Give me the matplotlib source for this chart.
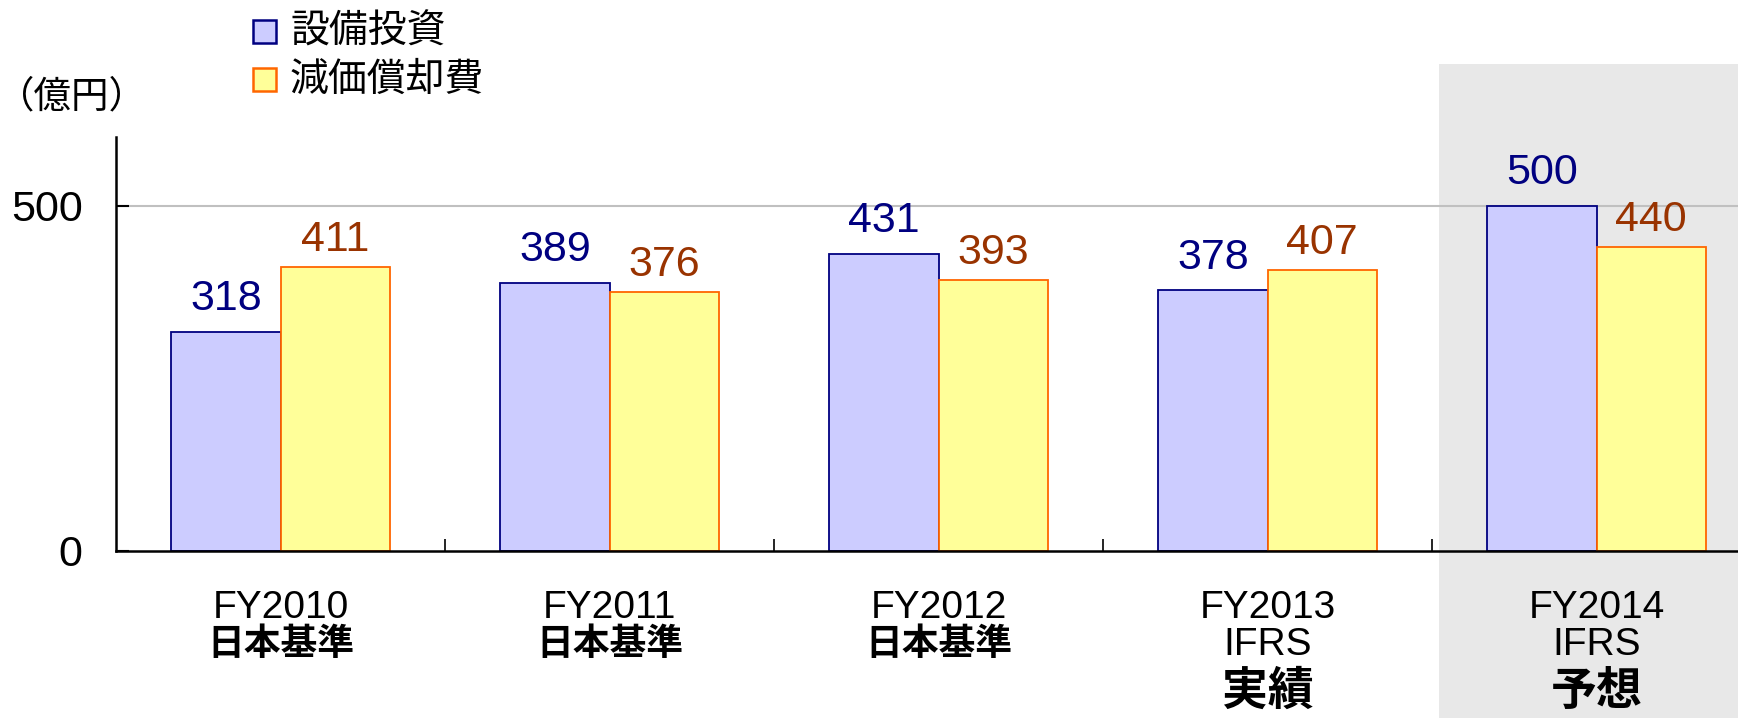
import matplotlib.pyplot as plt
from matplotlib.patches import Rectangle
from matplotlib.transforms import blended_transform_factory
import numpy as np

plt.rcParams['font.family'] = ['Liberation Sans', 'Noto Sans CJK JP', 'DejaVu Sans']

years = ['FY2010', 'FY2011', 'FY2012', 'FY2013', 'FY2014']
standards = ['日本基準', '日本基準', '日本基準', 'IFRS', 'IFRS']
status = ['', '', '', '実績', '予想']
capex = [318, 389, 431, 378, 500]
depreciation = [411, 376, 393, 407, 440]
series_names = ['設備投資', '減価償却費']

blue_face, blue_edge, blue_text = '#CCCCFF', '#000080', '#000080'
yel_face, yel_edge, yel_text = '#FFFF99', '#FF6600', '#993300'

W, H = 1738, 718
fig = plt.figure(figsize=(W / 100, H / 100), dpi=100)

# shaded forecast column (figure level, behind axes)
fig.patches.append(Rectangle((1439 / W, 0), (W - 1439) / W, 1 - 64 / H,
                             transform=fig.transFigure, facecolor='#E8E8E8',
                             edgecolor='none', zorder=-5))

ax = fig.add_axes([116 / W, 1 - 551 / H, 1 - 116 / W, (551 - 137) / H])
ax.set_facecolor('none')

x = np.arange(len(years))
w = 0.332
ax.bar(x - w / 2, capex, w, facecolor=blue_face, edgecolor=blue_edge, linewidth=1.3, zorder=3)
ax.bar(x + w / 2, depreciation, w, facecolor=yel_face, edgecolor=yel_edge, linewidth=1.3, zorder=3)

for xi, v in zip(x, capex):
    ax.annotate(str(v), (xi - w / 2, v), xytext=(0, 15.5), textcoords='offset points',
                ha='center', va='baseline', fontsize=31, color=blue_text)
for xi, v in zip(x, depreciation):
    ax.annotate(str(v), (xi + w / 2, v), xytext=(0, 11.5), textcoords='offset points',
                ha='center', va='baseline', fontsize=31, color=yel_text)

ax.set_xlim(-0.5, (W - 116) / 329 - 0.5)
ax.set_ylim(0, 600)
ax.axhline(500, color='#C0C0C0', linewidth=1.5, zorder=1)

ax.set_yticks([0, 500])
ax.set_yticklabels(['0', '500'], fontsize=31)
ax.tick_params(axis='y', direction='in', length=9, width=1.5, pad=24)
ax.set_xticks(x[:-1] + 0.5)
ax.set_xticklabels([])
ax.tick_params(axis='x', direction='in', length=9, width=1.2)

for s in ['top', 'right']:
    ax.spines[s].set_visible(False)
for s in ['left', 'bottom']:
    ax.spines[s].set_linewidth(1.8)
    ax.spines[s].set_zorder(4)

# category labels
tr = blended_transform_factory(ax.transData, fig.transFigure)
for xi, yr, st, stt in zip(x, years, standards, status):
    ax.text(xi, 1 - 608 / H, yr, transform=tr, ha='center', va='center', fontsize=28)
    bold = st != 'IFRS'
    ax.text(xi, 1 - 645 / H, st, transform=tr, ha='center', va='center',
            fontsize=28 if not bold else 26.5, fontweight='bold' if bold else 'normal')
    if stt:
        ax.text(xi, 1 - 693 / H, stt, transform=tr, ha='center', va='center',
                fontsize=33, fontweight='bold')

# unit label
fig.text(72 / W, 1 - 97 / H, '（億円）', ha='center', va='center', fontsize=27,
         family=['Noto Sans CJK JP'])

# legend
for i, (name, fc, ec) in enumerate(zip(series_names, [blue_face, yel_face], [blue_edge, yel_edge])):
    top = 20 + 48 * i
    fig.patches.append(Rectangle((253 / W, 1 - (top + 23) / H), 23 / W, 23 / H,
                                 transform=fig.transFigure, facecolor=fc,
                                 edgecolor=ec, linewidth=1.8))
    fig.text(290 / W, 1 - (top + 12) / H, name, ha='left', va='center', fontsize=28,
             family=['Noto Sans CJK JP'])

plt.savefig('out.png', dpi=100)
